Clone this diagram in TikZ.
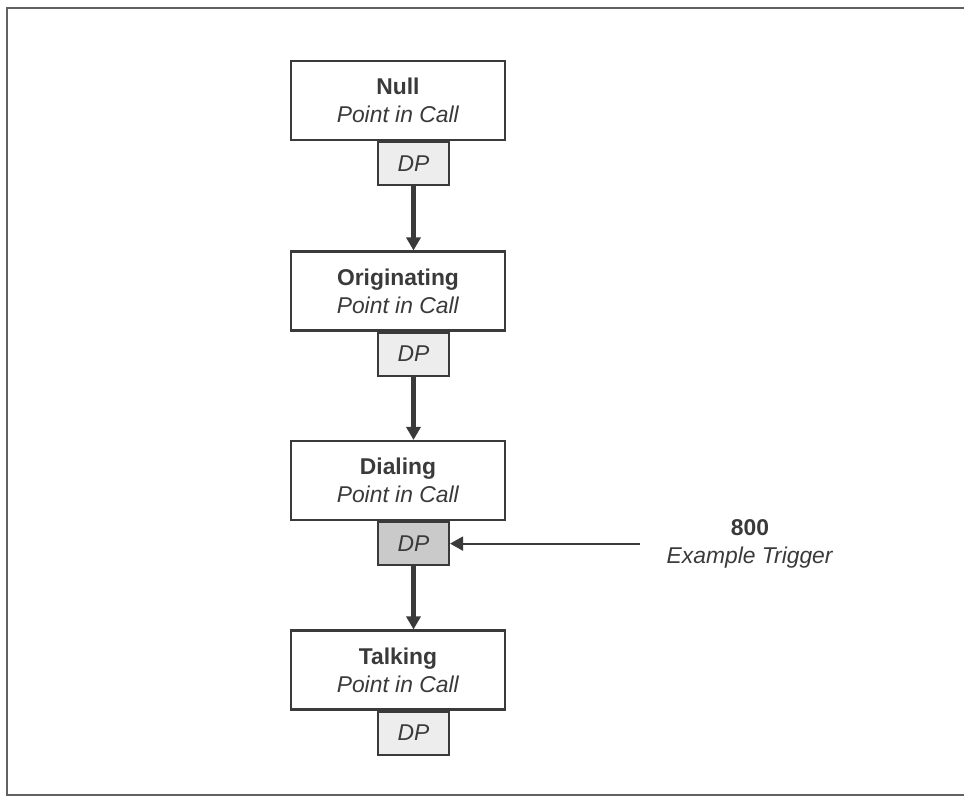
\documentclass[tikz,border=0pt]{standalone}
\usepackage{fontspec}
\setsansfont{Liberation Sans}
\usetikzlibrary{arrows.meta}

\definecolor{inkgray}{HTML}{3A3A3A}
\definecolor{dplight}{HTML}{EDEDED}
\definecolor{dpdark}{HTML}{CACACA}

\begin{document}
\begin{tikzpicture}[every node/.style={font=\sffamily\fontsize{13}{16}\selectfont, text=inkgray},
	pic/.style={draw=inkgray, line width=1.2pt, fill=white, minimum width=4.28cm, minimum height=1.58cm, align=center, inner sep=0pt},
	dpbox/.style={draw=inkgray, line width=1.2pt, fill=dplight, minimum width=1.42cm, minimum height=0.86cm, anchor=north, inner sep=0pt},
	flow/.style={draw=inkgray, line width=2.3pt, -{Triangle[length=2.6mm, width=2.8mm]}},
	trigarrow/.style={draw=inkgray, line width=1.2pt, -{Triangle[length=2.6mm, width=2.8mm]}}]
	\useasboundingbox (0,0) rectangle (19.28,-15.96);
	\draw[inkgray!80, line width=1pt] (19.28,-0.16) -- (0.14,-0.16) -- (0.14,-15.9) -- (19.28,-15.9);
	% points in call
	\node[pic] (null) at (7.96,-2.01) {\textbf{Null}\\\textit{Point in Call}};
	\node[dpbox] (dp1) at ([xshift=0.31cm]null.south) {\textit{DP}};
	\node[pic] (orig) at (7.96,-5.82) {\textbf{Originating}\\\textit{Point in Call}};
	\node[dpbox] (dp2) at ([xshift=0.31cm]orig.south) {\textit{DP}};
	\node[pic] (dial) at (7.96,-9.61) {\textbf{Dialing}\\\textit{Point in Call}};
	\node[dpbox, fill=dpdark] (dp3) at ([xshift=0.31cm]dial.south) {\textit{DP}};
	\node[pic] (talk) at (7.96,-13.4) {\textbf{Talking}\\\textit{Point in Call}};
	\node[dpbox] (dp4) at ([xshift=0.31cm]talk.south) {\textit{DP}};
	\draw[flow] (dp1.south) -- (dp1.south |- orig.north);
	\draw[flow] (dp2.south) -- (dp2.south |- dial.north);
	\draw[flow] (dp3.south) -- (dp3.south |- talk.north);
	% trigger
	\node[align=center] (trig) at (15.0,-10.87) {\textbf{800}\\\textit{Example Trigger}};
	\coordinate (trigstart) at (12.8,0 |- dp3.east);
	\draw[trigarrow] (trigstart) -- (dp3.east);
\end{tikzpicture}
\end{document}
